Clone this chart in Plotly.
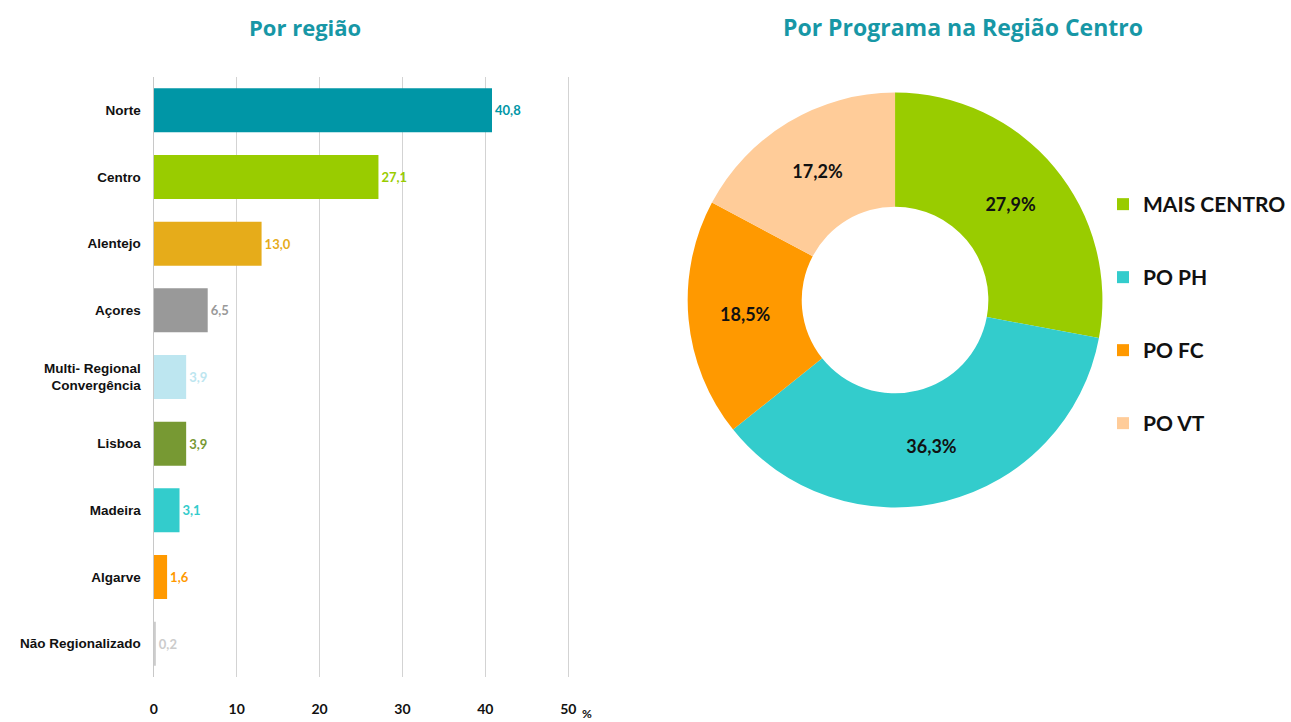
import plotly.graph_objects as go

# ---- Data: Por região ----
regions = ["Norte", "Centro", "Alentejo", "Açores", "Multi- Regional<br>Convergência",
           "Lisboa", "Madeira", "Algarve", "Não Regionalizado"]
region_values = [40.8, 27.1, 13.0, 6.5, 3.9, 3.9, 3.1, 1.6, 0.2]
region_colors = ["#0096A6", "#99CC00", "#E6AC1A", "#999999", "#BDE6F0",
                 "#779933", "#33CCCC", "#FF9900", "#CCCCCC"]
x_ticks = [0, 10, 20, 30, 40, 50]

# ---- Data: Por Programa na Região Centro ----
programs = ["MAIS CENTRO", "PO PH", "PO FC", "PO VT"]
program_values = [27.9, 36.3, 18.5, 17.2]
program_colors = ["#99CC00", "#33CCCC", "#FF9900", "#FFCC99"]

W, H = 1291, 722
TEAL = "#1797A6"

fig = go.Figure()

fig.add_trace(go.Bar(
    x=region_values, y=regions, orientation="h",
    marker=dict(color=region_colors, line=dict(width=0)),
    width=0.66,
    texttemplate="%{x:.1f}", textposition="outside",
    textfont=dict(family="Lato", size=13, color=region_colors, weight="bold"),
    cliponaxis=False, showlegend=False, hoverinfo="x+y",
))

fig.add_trace(go.Pie(
    labels=programs, values=program_values,
    marker=dict(colors=program_colors, line=dict(width=0)),
    hole=0.45, sort=False, direction="clockwise", rotation=0,
    texttemplate="%{value:.1f}%", textposition="inside",
    insidetextorientation="horizontal",
    textfont=dict(family="Lato", size=18, color="#111111", weight="bold"),
    domain=dict(x=[689 / W, 1107 / W], y=[1 - 509 / H, 1 - 91 / H]),
    showlegend=False,
))

# legend entries (one group each so spacing can be set)
for name, col in zip(programs, program_colors):
    fig.add_trace(go.Scatter(
        x=[None], y=[None], mode="markers", name=name, legendgroup=name,
        marker=dict(symbol="square", size=14, color=col),
        showlegend=True,
    ))

fig.update_layout(
    width=W, height=H,
    margin=dict(l=0, r=0, t=0, b=0),
    paper_bgcolor="white", plot_bgcolor="white",
    separators=",.",
    font=dict(family="Liberation Sans", color="#111111"),
    xaxis=dict(
        domain=[151 / W, 572 / W], range=[0, 50.4],
        tickvals=x_ticks, showgrid=True, gridcolor="#D3D3D3", gridwidth=1,
        zeroline=True, zerolinecolor="#C8C8C8", zerolinewidth=1,
        showline=False, ticks="", ticklabelstandoff=22,
        tickfont=dict(family="Lato", size=14, color="#111111", weight="bold"),
        fixedrange=True,
    ),
    yaxis=dict(
        domain=[1 - 677 / H, 1 - 77 / H], autorange="reversed",
        showgrid=False, zeroline=False, showline=False, ticks="",
        ticklabelstandoff=12,
        tickfont=dict(family="Liberation Sans", size=13.5, color="#111111", weight="bold"),
        fixedrange=True,
    ),
    legend=dict(
        x=1108 / W, y=1 - 184 / H, xanchor="left", yanchor="top",
        font=dict(family="Lato", size=21, color="#111111", weight="bold"),
        tracegroupgap=42.7, itemsizing="constant", bgcolor="rgba(0,0,0,0)",
    ),
    annotations=[
        dict(text="Por região", x=303 / W, y=1 - 27 / H, xref="paper", yref="paper",
             showarrow=False, xanchor="center", yanchor="middle",
             font=dict(family="Open Sans", size=22, color=TEAL, weight="bold")),
        dict(text="Por Programa na Região Centro", x=966 / W, y=1 - 27 / H,
             xref="paper", yref="paper", showarrow=False, xanchor="center",
             yanchor="middle",
             font=dict(family="Open Sans", size=23, color=TEAL, weight="bold")),
        dict(text="%", x=588 / W, y=1 - 713 / H, xref="paper", yref="paper",
             showarrow=False, xanchor="center", yanchor="middle",
             font=dict(family="Lato", size=12, color="#111111", weight="bold")),
    ],
)

fig.write_html("out.html", config={"displayModeBar": False},
               post_script="document.body.style.margin='0';")
